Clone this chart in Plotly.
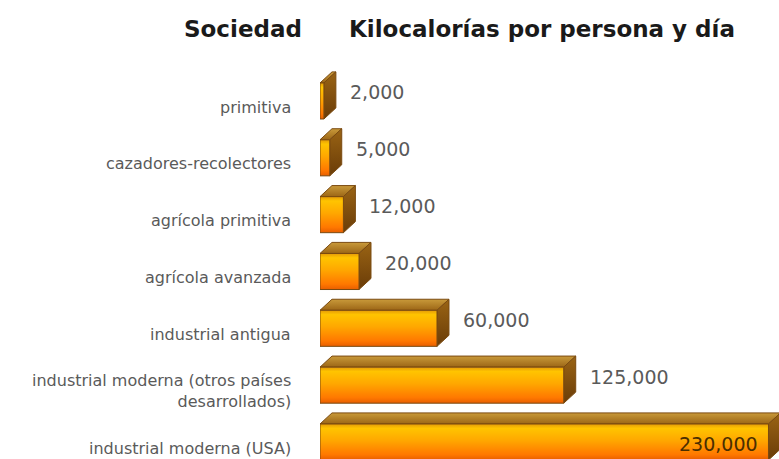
import plotly.graph_objects as go

# Energy use per person and day by type of society
societies = [
    "primitiva",
    "cazadores-recolectores",
    "agrícola primitiva",
    "agrícola avanzada",
    "industrial antigua",
    "industrial moderna (otros países<br>desarrollados)",
    "industrial moderna (USA)",
]
kilocalories = [2000, 5000, 12000, 20000, 60000, 125000, 230000]

header_left = "Sociedad"
header_right = "Kilocalorías por persona y día"

FIG_W, FIG_H = 779, 459
MARGIN_L = 320
PLOT_W = FIG_W - MARGIN_L

# Geometry of the pseudo-3D bars (in axis units)
X_MAX = 235400
Y_RANGE = [6.299, -1.777]
HALF = 0.317          # half height of the front face
DEPTH_X = 6150        # horizontal extrusion
DEPTH_Y = 0.195       # vertical extrusion (upwards)

FRONT_SCALE = [[0.0, "#e49a08"], [0.12, "#ffc400"], [0.45, "#ffa800"],
               [0.85, "#ff7800"], [1.0, "#e85e00"]]
TOP_SCALE = [[0.0, "#c99a3a"], [1.0, "#9c6616"]]
SIDE_SCALE = [[0.0, "#9a6414"], [1.0, "#6a3c08"]]
EDGE = "#7a4a10"


def paper_x(px):
    """Figure pixel column -> paper coordinate of the plot area."""
    return (px - MARGIN_L) / PLOT_W


fig = go.Figure()

for i, v in enumerate(kilocalories):
    top = i - HALF
    bottom = i + HALF
    # top face
    fig.add_trace(go.Scatter(
        x=[0, DEPTH_X, v + DEPTH_X, v, 0],
        y=[top, top - DEPTH_Y, top - DEPTH_Y, top, top],
        fill="toself", mode="lines",
        line=dict(color=EDGE, width=1),
        fillgradient=dict(type="vertical", colorscale=TOP_SCALE,
                          start=top - DEPTH_Y, stop=top),
        hoverinfo="skip", showlegend=False,
    ))
    # right side face
    fig.add_trace(go.Scatter(
        x=[v, v + DEPTH_X, v + DEPTH_X, v, v],
        y=[top, top - DEPTH_Y, bottom - DEPTH_Y, bottom, top],
        fill="toself", mode="lines",
        line=dict(color=EDGE, width=1),
        fillgradient=dict(type="vertical", colorscale=SIDE_SCALE,
                          start=top - DEPTH_Y, stop=bottom),
        hoverinfo="skip", showlegend=False,
    ))
    # front face
    fig.add_trace(go.Scatter(
        x=[0, v, v, 0, 0],
        y=[top, top, bottom, bottom, top],
        fill="toself", mode="lines",
        line=dict(color=EDGE, width=1),
        fillgradient=dict(type="vertical", colorscale=FRONT_SCALE,
                          start=top, stop=bottom),
        hoverinfo="skip", showlegend=False,
    ))

annotations = []
for i, (name, v) in enumerate(zip(societies, kilocalories)):
    # category label, right aligned left of the bars
    annotations.append(dict(
        x=0, y=i, xref="x", yref="y", text=name, showarrow=False,
        xanchor="right", yanchor="middle", align="right",
        xshift=-27, yshift=-6,
        font=dict(family="DejaVu Sans", size=16, color="#5a5a5a"),
    ))
    label = f"{v:,}"
    if v + DEPTH_X > 0.8 * X_MAX:
        # long bar: value written inside its right end
        annotations.append(dict(
            x=v, y=i, xref="x", yref="y", text=label, showarrow=False,
            xanchor="right", yanchor="middle", xshift=-8, yshift=-2,
            font=dict(family="DejaVu Sans", size=19, color="#4a2e00"),
        ))
    else:
        annotations.append(dict(
            x=v + DEPTH_X, y=i - DEPTH_Y / 2, xref="x", yref="y", text=label,
            showarrow=False, xanchor="left", yanchor="middle", xshift=12,
            yshift=3,
            font=dict(family="DejaVu Sans", size=19, color="#5a5a5a"),
        ))

# column headers
header_font = dict(family="DejaVu Sans", size=23, color="#1a1a1a", weight="bold")
annotations.append(dict(
    x=paper_x(243), y=1 - 29 / FIG_H, xref="paper", yref="paper",
    text=header_left, showarrow=False, xanchor="center", yanchor="middle",
    font=header_font,
))
annotations.append(dict(
    x=paper_x(542), y=1 - 29 / FIG_H, xref="paper", yref="paper",
    text=header_right, showarrow=False, xanchor="center", yanchor="middle",
    font=header_font,
))

fig.update_layout(
    width=FIG_W, height=FIG_H,
    margin=dict(l=MARGIN_L, r=0, t=0, b=0),
    paper_bgcolor="white", plot_bgcolor="white",
    xaxis=dict(range=[0, X_MAX], visible=False, fixedrange=True),
    yaxis=dict(range=Y_RANGE, visible=False, fixedrange=True),
    annotations=annotations,
    showlegend=False,
)

fig.write_html("out.html")
